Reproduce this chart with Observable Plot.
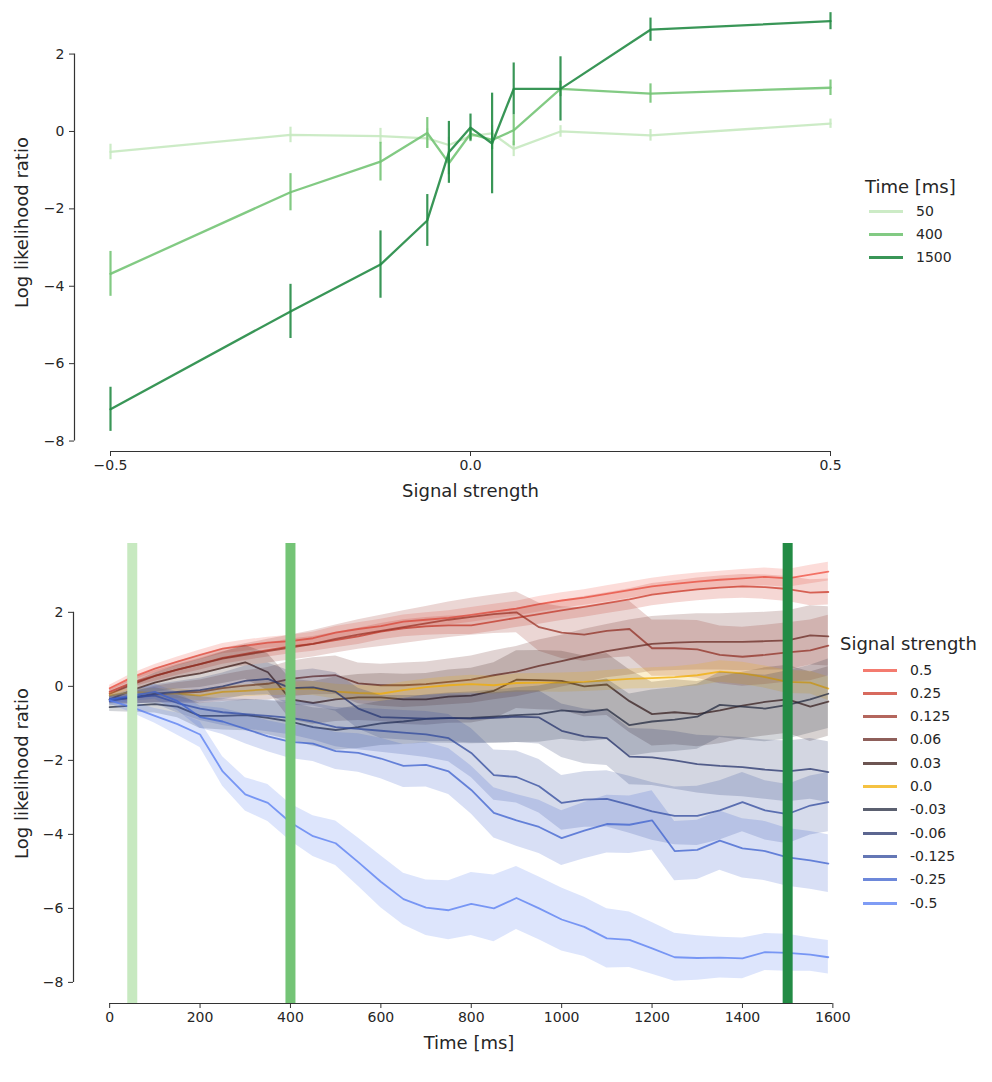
<!DOCTYPE html>
<html><head><meta charset="utf-8">
<script src="https://cdn.jsdelivr.net/npm/d3@7"></script>
<script src="https://cdn.jsdelivr.net/npm/@observablehq/plot@0.6"></script>
<style>
body{margin:0;background:#fff;font-family:"DejaVu Sans",sans-serif;}
#wrap{position:relative;width:992px;height:1082px;overflow:hidden;}
#top,#bottom{position:absolute;left:0;}
#top{top:0;} #bottom{top:520px;}
g[aria-label$="tick label"]{font-size:14px !important;}
g[aria-label$="tick label"] text{font-size:14px !important;}
.legend{position:absolute;color:#262626;}
.lg-title{position:absolute;font-size:18px;white-space:nowrap;line-height:1;}
.lg-row{position:absolute;font-size:14px;white-space:nowrap;line-height:1;}
.sw{position:absolute;height:3px;}
</style></head>
<body><div id="wrap"><div id="top"></div><div id="bottom"></div><div id="lg1" class="legend"></div><div id="lg2" class="legend"></div></div>
<script>
// ---------- Top chart data ----------
const signalLevels = [-0.5, -0.25, -0.125, -0.06, -0.03, 0, 0.03, 0.06, 0.125, 0.25, 0.5];
const timeLabels = ["50", "400", "1500"];
const greenColors = ["#c7e9c0", "#74c476", "#238b45"];
const llr50   = [-0.53, -0.09, -0.12, -0.18, -0.35, -0.12, -0.05, -0.45, 0.0, -0.1, 0.2];
const err50   = [0.2, 0.2, 0.2, 0.25, 0.2, 0.15, 0.2, 0.2, 0.15, 0.15, 0.12];
const llr400  = [-3.68, -1.57, -0.78, -0.04, -0.82, -0.06, -0.22, 0.03, 1.1, 0.98, 1.13];
const err400  = [0.58, 0.48, 0.5, 0.4, 0.3, 0.15, 0.25, 0.4, 0.2, 0.25, 0.2];
const llr1500 = [-7.18, -4.65, -3.44, -2.3, -0.54, 0.1, -0.31, 1.1, 1.1, 2.63, 2.85];
const err1500 = [0.57, 0.7, 0.87, 0.67, 0.8, 0.35, 1.3, 0.67, 0.83, 0.3, 0.22];
const topXTicks = [-0.5, 0, 0.5];
const topYTicks = [-8, -6, -4, -2, 0, 2];

// ---------- Bottom chart data ----------
const timesMs = [0,50,100,150,200,250,300,350,400,450,500,550,600,650,700,750,800,850,900,950,1000,1050,1100,1150,1200,1250,1300,1350,1400,1450,1500,1550,1590];
const signalNames = ["0.5","0.25","0.125","0.06","0.03","0.0","-0.03","-0.06","-0.125","-0.25","-0.5"];
const signalColors = ["#f04f3f","#cb3828","#9b3327","#682923","#3c1c18","#f1ad03","#242b40","#25336b","#30499c","#3c60cd","#547bf1"];
const llrP500 = [-0.05,0.25,0.48,0.67,0.85,1.02,1.1,1.18,1.22,1.3,1.45,1.55,1.63,1.75,1.8,1.85,1.93,2.02,2.1,2.22,2.32,2.4,2.5,2.6,2.7,2.77,2.83,2.88,2.92,2.96,2.92,3.02,3.1];
const llrP250 = [-0.15,0.1,0.28,0.45,0.6,0.77,0.88,0.98,1.08,1.15,1.25,1.35,1.48,1.57,1.62,1.65,1.65,1.75,1.85,1.95,2.05,2.15,2.25,2.35,2.48,2.55,2.62,2.67,2.7,2.68,2.63,2.53,2.55];
const llrP125 = [-0.2,0.05,0.28,0.45,0.6,0.75,0.85,0.95,1.05,1.15,1.28,1.4,1.5,1.6,1.7,1.8,1.88,1.95,2.0,1.6,1.45,1.4,1.5,1.55,1.03,1.03,1.0,0.85,0.8,0.85,0.92,0.97,1.1];
const llrP060 = [-0.35,-0.32,-0.22,-0.18,-0.15,-0.05,0.02,0.07,0.2,0.27,0.3,0.08,0.03,0.03,0.06,0.12,0.18,0.3,0.4,0.55,0.68,0.82,0.95,1.05,1.15,1.18,1.2,1.2,1.2,1.22,1.24,1.38,1.35];
const llrP030 = [-0.35,-0.1,0.1,0.25,0.35,0.5,0.65,0.38,-0.35,-0.45,-0.35,-0.3,-0.3,-0.35,-0.35,-0.28,-0.25,-0.12,0.18,0.17,0.15,0.0,0.05,-0.4,-0.75,-0.7,-0.75,-0.65,-0.52,-0.42,-0.35,-0.55,-0.41];
const llrZero = [-0.25,-0.15,-0.18,-0.2,-0.25,-0.15,-0.12,-0.08,-0.06,-0.06,-0.14,-0.18,-0.2,-0.1,-0.02,0.03,0.06,0.03,0.09,0.1,0.1,0.12,0.16,0.2,0.22,0.25,0.3,0.4,0.35,0.25,0.12,0.1,-0.06];
const llrN030 = [-0.56,-0.52,-0.48,-0.55,-0.8,-0.8,-0.78,-0.85,-0.95,-1.1,-1.18,-1.1,-1.0,-0.95,-0.88,-0.86,-0.85,-0.82,-0.78,-0.75,-0.65,-0.7,-0.62,-1.05,-0.95,-0.9,-0.82,-0.5,-0.55,-0.6,-0.5,-0.35,-0.2];
const llrN060 = [-0.4,-0.3,-0.2,-0.15,-0.1,0.0,0.15,0.2,-0.05,-0.03,-0.15,-0.6,-0.83,-0.85,-0.87,-0.85,-0.87,-0.85,-0.82,-0.84,-1.2,-1.35,-1.4,-1.9,-1.92,-2.0,-2.1,-2.15,-2.18,-2.25,-2.3,-2.23,-2.32];
const llrN125 = [-0.35,-0.3,-0.25,-0.45,-0.6,-0.7,-0.75,-0.8,-0.85,-0.95,-1.1,-1.15,-1.2,-1.25,-1.3,-1.4,-1.8,-2.4,-2.45,-2.7,-3.15,-3.06,-3.04,-3.2,-3.38,-3.5,-3.5,-3.35,-3.13,-3.35,-3.45,-3.22,-3.13];
const llrN250 = [-0.35,-0.25,-0.15,-0.4,-0.83,-0.95,-1.15,-1.35,-1.5,-1.55,-1.75,-1.8,-1.95,-2.15,-2.12,-2.3,-2.8,-3.42,-3.62,-3.8,-4.1,-3.9,-3.72,-3.74,-3.62,-4.45,-4.42,-4.17,-4.38,-4.45,-4.62,-4.7,-4.79];
const llrN500 = [-0.38,-0.57,-0.8,-1.02,-1.3,-2.3,-2.92,-3.15,-3.68,-4.05,-4.24,-4.75,-5.28,-5.75,-5.98,-6.05,-5.88,-6.0,-5.72,-6.0,-6.3,-6.5,-6.81,-6.85,-7.08,-7.32,-7.34,-7.33,-7.35,-7.18,-7.2,-7.25,-7.32];
const errP500 = [0.08,0.1,0.11,0.12,0.13,0.14,0.15,0.15,0.16,0.16,0.17,0.17,0.18,0.18,0.19,0.19,0.2,0.2,0.2,0.21,0.21,0.21,0.22,0.22,0.22,0.23,0.23,0.23,0.24,0.24,0.24,0.25,0.25];
const errP250 = [0.1,0.12,0.14,0.15,0.16,0.17,0.18,0.19,0.2,0.2,0.21,0.22,0.22,0.23,0.24,0.25,0.25,0.26,0.26,0.27,0.27,0.28,0.28,0.29,0.3,0.3,0.31,0.31,0.32,0.33,0.34,0.35,0.35];
const errP125 = [0.1,0.15,0.2,0.22,0.25,0.27,0.3,0.32,0.34,0.36,0.38,0.4,0.42,0.44,0.46,0.48,0.5,0.52,0.55,0.65,0.7,0.72,0.74,0.75,0.76,0.76,0.78,0.78,0.8,0.8,0.8,0.82,0.82];
const errP060 = [0.1,0.16,0.22,0.28,0.32,0.36,0.4,0.44,0.48,0.5,0.52,0.55,0.57,0.6,0.6,0.62,0.64,0.66,0.68,0.7,0.7,0.72,0.72,0.74,0.74,0.75,0.76,0.76,0.78,0.78,0.8,0.8,0.8];
const errP030 = [0.12,0.2,0.26,0.32,0.38,0.42,0.46,0.5,0.55,0.58,0.6,0.62,0.65,0.68,0.7,0.72,0.74,0.76,0.78,0.8,0.8,0.82,0.84,0.85,0.86,0.88,0.88,0.9,0.9,0.92,0.92,0.94,0.94];
const errZero = [0.08,0.1,0.12,0.13,0.14,0.15,0.16,0.17,0.18,0.19,0.2,0.2,0.21,0.22,0.22,0.23,0.24,0.24,0.25,0.25,0.26,0.26,0.27,0.27,0.28,0.28,0.29,0.29,0.3,0.3,0.31,0.31,0.32];
const errN030 = [0.12,0.18,0.24,0.3,0.34,0.38,0.42,0.46,0.5,0.52,0.55,0.58,0.6,0.62,0.65,0.68,0.7,0.72,0.74,0.76,0.78,0.8,0.82,0.84,0.85,0.86,0.88,0.88,0.9,0.9,0.92,0.92,0.94];
const errN060 = [0.12,0.18,0.24,0.28,0.32,0.36,0.4,0.43,0.46,0.5,0.52,0.55,0.58,0.6,0.62,0.64,0.66,0.68,0.7,0.72,0.72,0.74,0.74,0.76,0.76,0.78,0.78,0.8,0.8,0.8,0.82,0.82,0.82];
const errN125 = [0.1,0.16,0.22,0.27,0.32,0.36,0.4,0.43,0.46,0.5,0.53,0.56,0.58,0.6,0.62,0.64,0.66,0.68,0.7,0.72,0.74,0.75,0.76,0.77,0.78,0.78,0.8,0.8,0.8,0.8,0.8,0.8,0.8];
const errN250 = [0.1,0.15,0.2,0.25,0.3,0.35,0.4,0.42,0.45,0.48,0.5,0.52,0.55,0.58,0.6,0.62,0.65,0.68,0.7,0.72,0.74,0.76,0.78,0.78,0.8,0.8,0.8,0.8,0.8,0.8,0.78,0.78,0.78];
const errN500 = [0.1,0.15,0.2,0.3,0.35,0.4,0.45,0.5,0.5,0.55,0.6,0.65,0.7,0.7,0.75,0.8,0.85,0.9,0.85,0.85,0.85,0.8,0.8,0.75,0.7,0.65,0.6,0.55,0.55,0.5,0.5,0.45,0.45];
const barTimes = [50, 400, 1500];
const botXTicks = [0,200,400,600,800,1000,1200,1400,1600];
const botYTicks = [-8,-6,-4,-2,0,2];

const axisStyle = {tickSize: 5, stroke: "#333", fill: "#262626", fontSize: 14, label: null};

// ---------- Top chart ----------
const topSeries = [llr50, llr400, llr1500];
const topErr = [err50, err400, err1500];
const topRows = timeLabels.flatMap((tl, k) => signalLevels.map((s, i) => ({
  time: tl, s, v: topSeries[k][i], lo: topSeries[k][i] - topErr[k][i], hi: topSeries[k][i] + topErr[k][i]
})));
const topXDom = [-0.55, 0.55];
const topYDom = [-8.27, 3.1];
const fmt1 = d3.format(".1f");

const topPlot = Plot.plot({
  width: 992, height: 520,
  marginLeft: 74, marginRight: 126, marginTop: 11, marginBottom: 69,
  style: {fontFamily: "DejaVu Sans, sans-serif", fontSize: "14px", color: "#262626", background: "white"},
  x: {domain: topXDom},
  y: {domain: topYDom},
  marks: [
    Plot.axisX({...axisStyle, ticks: topXTicks, tickFormat: fmt1, tickPadding: 4}),
    Plot.axisY({...axisStyle, ticks: topYTicks, tickPadding: 5}),
    Plot.ruleY([topYDom[0]], {x1: topXTicks[0], x2: topXTicks[topXTicks.length - 1], stroke: "#333", strokeWidth: 1.2}),
    Plot.ruleX([topXDom[0]], {y1: topYTicks[0], y2: topYTicks[topYTicks.length - 1], stroke: "#333", strokeWidth: 1.2}),
    ...timeLabels.flatMap((tl, k) => [
      Plot.line(topRows.filter(d => d.time === tl), {x: "s", y: "v", stroke: greenColors[k], strokeWidth: 2.3, strokeOpacity: 0.9}),
      Plot.ruleX(topRows.filter(d => d.time === tl), {x: "s", y1: "lo", y2: "hi", stroke: greenColors[k], strokeWidth: 2.2, strokeOpacity: 0.9})
    ]),
    Plot.text(["Log likelihood ratio"], {frameAnchor: "left", textAnchor: "middle", lineAnchor: "middle", rotate: -90, dx: -52, dy: -9, fontSize: 18, fill: "#262626"}),
    Plot.text(["Signal strength"], {frameAnchor: "bottom", textAnchor: "middle", lineAnchor: "middle", dy: 40, fontSize: 18, fill: "#262626"})
  ]
});
document.getElementById("top").appendChild(topPlot);

// ---------- Bottom chart ----------
const botSeries = [llrP500, llrP250, llrP125, llrP060, llrP030, llrZero, llrN030, llrN060, llrN125, llrN250, llrN500];
const botErr = [errP500, errP250, errP125, errP060, errP030, errZero, errN030, errN060, errN125, errN250, errN500];
const botRows = signalNames.flatMap((name, k) => timesMs.map((t, j) => ({
  name, t, v: botSeries[k][j], lo: botSeries[k][j] - botErr[k][j], hi: botSeries[k][j] + botErr[k][j]
})));
const botXDom = [-80, 1670];
const botYDom = [-8.57, 3.86];

const botPlot = Plot.plot({
  width: 992, height: 562,
  marginLeft: 73, marginRight: 128, marginTop: 23, marginBottom: 79,
  style: {fontFamily: "DejaVu Sans, sans-serif", fontSize: "14px", color: "#262626", background: "white"},
  x: {domain: botXDom},
  y: {domain: botYDom},
  marks: [
    ...signalNames.flatMap((name, k) => [
      Plot.areaY(botRows.filter(d => d.name === name), {x: "t", y1: "lo", y2: "hi", fill: signalColors[k], fillOpacity: 0.2}),
      Plot.lineY(botRows.filter(d => d.name === name), {x: "t", y: "v", stroke: signalColors[k], strokeWidth: 1.8, strokeOpacity: 0.75})
    ]),
    ...barTimes.map((t, i) => Plot.ruleX([t], {stroke: greenColors[i], strokeWidth: 10})),
    Plot.axisX({...axisStyle, ticks: botXTicks, tickFormat: d3.format("d"), tickPadding: 4}),
    Plot.axisY({...axisStyle, ticks: botYTicks, tickPadding: 5}),
    Plot.ruleY([botYDom[0]], {x1: botXTicks[0], x2: botXTicks[botXTicks.length - 1], stroke: "#333", strokeWidth: 1.2}),
    Plot.ruleX([botXDom[0]], {y1: botYTicks[0], y2: botYTicks[botYTicks.length - 1], stroke: "#333", strokeWidth: 1.2}),
    Plot.text(["Log likelihood ratio"], {frameAnchor: "left", textAnchor: "middle", lineAnchor: "middle", rotate: -90, dx: -51, fontSize: 18, fill: "#262626"}),
    Plot.text(["Time [ms]"], {frameAnchor: "bottom", textAnchor: "middle", lineAnchor: "middle", dy: 40, fontSize: 18, fill: "#262626"})
  ]
});
document.getElementById("bottom").appendChild(botPlot);

// ---------- Legends ----------
function buildLegend(el, title, names, colors, opts) {
  el.style.left = opts.left + "px";
  el.style.top = opts.top + "px";
  const t = document.createElement("div");
  t.className = "lg-title"; t.textContent = title;
  t.style.left = opts.titleX + "px"; t.style.top = "0px";
  el.appendChild(t);
  names.forEach((n, i) => {
    const y = opts.rowY0 + i * opts.rowStep;
    const sw = document.createElement("div");
    sw.className = "sw";
    sw.style.left = opts.swX + "px"; sw.style.width = opts.swW + "px";
    sw.style.top = (y - 1.5) + "px";
    sw.style.background = colors[i]; sw.style.opacity = opts.op;
    el.appendChild(sw);
    const r = document.createElement("div");
    r.className = "lg-row"; r.textContent = n;
    r.style.left = opts.labelX + "px"; r.style.top = (y - 7.5) + "px";
    el.appendChild(r);
  });
}
buildLegend(document.getElementById("lg1"), "Time [ms]", timeLabels, greenColors,
  {left: 0, top: 178, titleX: 865, rowY0: 33, rowStep: 23, swX: 869, swW: 34, labelX: 916, op: 0.9});
buildLegend(document.getElementById("lg2"), "Signal strength", signalNames, signalColors,
  {left: 0, top: 635, titleX: 840, rowY0: 35, rowStep: 23.3, swX: 863, swW: 34, labelX: 910, op: 0.75});
</script>
</body></html>
